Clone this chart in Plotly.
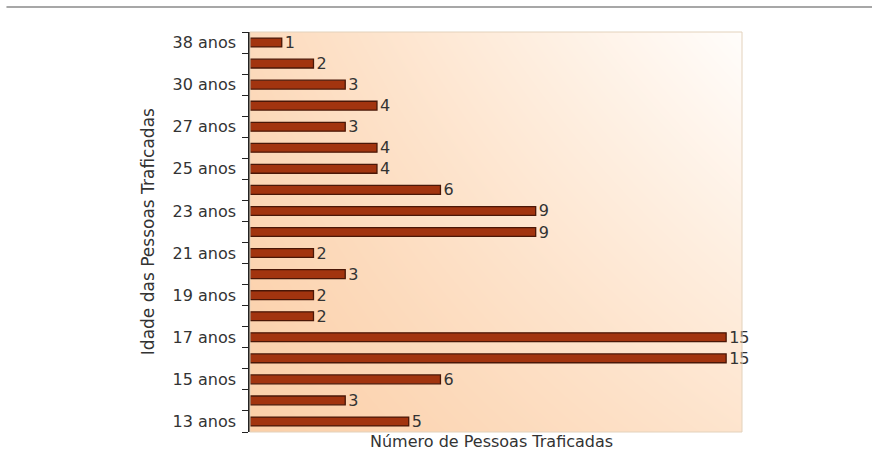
import plotly.graph_objects as go

# Age groups (bottom to top) and number of trafficked persons in each
ages = ["13 anos", "14 anos", "15 anos", "16 anos", "17 anos", "18 anos",
        "19 anos", "20 anos", "21 anos", "22 anos", "23 anos", "24 anos",
        "25 anos", "26 anos", "27 anos", "28 anos", "30 anos", "32 anos",
        "38 anos"]
counts = [5, 3, 6, 15, 15, 2, 2, 3, 2, 9, 9, 6, 4, 4, 3, 4, 3, 2, 1]
# only every other age is labelled on the axis
shown_labels = [a if i % 2 == 0 else "" for i, a in enumerate(ages)]

FONT = "DejaVu Sans"
TEXT = "#333333"

fig = go.Figure()

# soft peach-to-white wash behind the bars
fig.add_trace(go.Heatmap(
    x=[0, 1], y=[0, 1], z=[[1.0, 0.55], [0.75, 0.0]],
    zsmooth="best", showscale=False, hoverinfo="skip",
    colorscale=[[0, "#fffdfb"], [0.45, "#fee9d6"], [1, "#fbcfa8"]],
    xaxis="x", yaxis="y",
))

fig.add_trace(go.Bar(
    x=counts, y=ages, orientation="h",
    width=0.42,
    marker=dict(color="#a2340f", line=dict(color="#4a1707", width=1.3)),
    text=[str(c) for c in counts], textposition="outside",
    constraintext="none",
    textfont=dict(family=FONT, size=16, color=TEXT),
    cliponaxis=False,
    xaxis="x2", yaxis="y2",
))

fig.update_layout(
    width=872, height=476,
    margin=dict(l=250, r=130, t=32, b=44),
    paper_bgcolor="white", plot_bgcolor="white",
    showlegend=False,
    font=dict(family=FONT, size=16, color=TEXT),
    xaxis=dict(range=[0, 1], visible=False, fixedrange=True),
    yaxis=dict(range=[0, 1], visible=False, fixedrange=True),
    xaxis2=dict(overlaying="x", range=[0, 15.5], showticklabels=False,
                showgrid=False, zeroline=False, showline=False, ticks=""),
    yaxis2=dict(overlaying="y", type="category", categoryarray=ages,
                categoryorder="array", tickmode="array", tickvals=ages,
                ticktext=shown_labels, tickson="boundaries", ticks="outside",
                ticklen=6, tickcolor="#222222", showline=True,
                linecolor="#222222", linewidth=1.5, showgrid=False,
                ticklabelstandoff=9,
                tickfont=dict(family=FONT, size=16, color=TEXT)),
    shapes=[
        dict(type="rect", xref="paper", yref="paper", x0=0, x1=1, y0=0, y1=1,
             line=dict(color="#e3d2bc", width=1), layer="above"),
        dict(type="line", xref="paper", yref="paper", x0=-0.495, x1=1.27,
             y0=1.0625, y1=1.0625, line=dict(color="#8a8a8a", width=1.5)),
    ],
    annotations=[
        dict(text="Idade das Pessoas Traficadas", xref="paper", yref="paper",
             x=-0.207, y=0.5, xanchor="center", yanchor="middle",
             textangle=-90, showarrow=False,
             font=dict(family=FONT, size=17, color=TEXT)),
        dict(text="Número de Pessoas Traficadas", xref="paper", yref="paper",
             x=0.49, y=-0.0225, xanchor="center", yanchor="middle",
             showarrow=False, font=dict(family=FONT, size=16, color=TEXT)),
    ],
)

fig.write_html("out.html")
